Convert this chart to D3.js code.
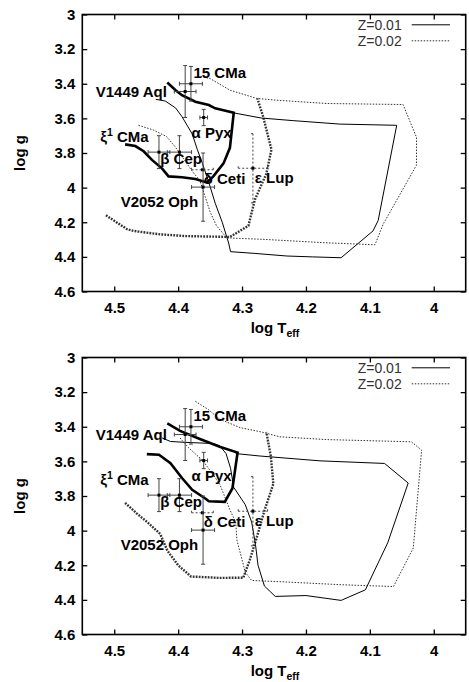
<!DOCTYPE html>
<html>
<head>
<meta charset="utf-8">
<script src="https://cdn.jsdelivr.net/npm/d3@7/dist/d3.min.js"></script>
<style>
  body { margin: 0; background: #fff; }
  text { font-family: "Liberation Sans", Arial, Helvetica, sans-serif; }
</style>
</head>
<body>
<div id="container"></div>
<script>
// stars, solid error bars
const starTeff    = [4.380, 4.389, 4.360, 4.430, 4.398, 4.361];
const starLogg    = [3.400, 3.445, 3.595, 3.795, 3.795, 3.997];
const starTeffErr = [0.018, 0.017, 0.006, 0.017, 0.019, 0.018];
const starLoggErr = [0.100, 0.150, 0.047, 0.095, 0.095, 0.197];
// second determinations, dashed error bars
const altTeff    = [4.362, 4.283];
const altLogg    = [3.897, 3.888];
const altTeffErr = [0.017, 0.023];
const altLoggErr = [0.000, 0.200];

// star names, placed in data coords
const labelText = ["15 CMa", "V1449 Aql", "ξ^1 CMa", "α Pyx", "β Cep", "δ Ceti", "ε Lup", "V2052 Oph"];
const labelTeff = [4.376, 4.529, 4.522, 4.379, 4.428, 4.360, 4.280, 4.490];
const labelLogg = [3.368, 3.477, 3.736, 3.712, 3.862, 3.978, 3.976, 4.112];

const xTicks = [4.5, 4.4, 4.3, 4.2, 4.1, 4.0];
const yTicks = [3, 3.2, 3.4, 3.6, 3.8, 4, 4.2, 4.4, 4.6];
const legendNames = ["Z=0.01", "Z=0.02"];

// upper panel strips  [log Teff, log g]
const topZ01Thick = [[4.483,3.75],[4.467,3.76],[4.454,3.79],[4.441,3.84],[4.425,3.89],[4.415,3.935],[4.394,3.94],[4.373,3.95],[4.355,3.97],[4.345,3.935],[4.329,3.86],[4.319,3.77],[4.313,3.567],[4.342,3.542],[4.352,3.523],[4.373,3.504],[4.394,3.466],[4.404,3.437],[4.417,3.393]];
const topZ01Thin = [[4.435,3.49],[4.42,3.5],[4.404,3.54],[4.394,3.59],[4.378,3.69],[4.37,3.78],[4.362,3.86],[4.352,3.97],[4.342,4.09],[4.331,4.2],[4.321,4.32],[4.318,4.37],[4.28,4.38],[4.23,4.395],[4.19,4.4],[4.145,4.405],[4.095,4.25],[4.087,4.19],[4.058,3.64],[4.147,3.633],[4.22,3.613],[4.27,3.598],[4.315,3.567]];
const topZ02Thick = [[4.513,4.16],[4.48,4.24],[4.47,4.25],[4.428,4.27],[4.387,4.28],[4.319,4.285],[4.29,4.22],[4.28,4.07],[4.262,3.92],[4.254,3.78],[4.267,3.59],[4.276,3.485]];
const topZ02Thin = [[4.462,3.64],[4.439,3.667],[4.418,3.705],[4.405,3.763],[4.394,3.82],[4.379,3.9],[4.366,3.96],[4.358,4.05],[4.35,4.14],[4.34,4.22],[4.324,4.29],[4.26,4.3],[4.167,4.319],[4.092,4.33],[4.079,4.21],[4.027,3.87],[4.027,3.71],[4.048,3.52],[4.168,3.514],[4.246,3.495],[4.277,3.485],[4.319,3.437],[4.35,3.37],[4.366,3.357]];

// lower panel strips
const botZ01Thick = [[4.449,3.558],[4.43,3.562],[4.412,3.61],[4.394,3.696],[4.378,3.764],[4.357,3.816],[4.352,3.83],[4.327,3.834],[4.315,3.755],[4.307,3.549],[4.335,3.516],[4.366,3.471],[4.397,3.424],[4.417,3.38]];
const botZ01Thin = [[4.425,3.465],[4.412,3.485],[4.39,3.49],[4.345,3.497],[4.335,3.51],[4.325,3.555],[4.318,3.64],[4.313,3.75],[4.295,3.85],[4.285,3.95],[4.279,4.08],[4.275,4.2],[4.265,4.32],[4.248,4.38],[4.2,4.375],[4.145,4.403],[4.107,4.342],[4.072,4.07],[4.04,3.725],[4.077,3.612],[4.178,3.597],[4.272,3.569],[4.31,3.555]];
const botZ02Thick = [[4.483,3.84],[4.465,3.9],[4.447,3.955],[4.428,4.02],[4.417,4.115],[4.4,4.2],[4.38,4.265],[4.335,4.273],[4.298,4.272],[4.288,4.17],[4.277,4.04],[4.265,3.885],[4.251,3.73],[4.255,3.57],[4.262,3.43]];
const botZ02Thin = [[4.397,3.465],[4.384,3.52],[4.361,3.597],[4.335,3.73],[4.319,3.88],[4.31,3.95],[4.308,4.055],[4.295,4.24],[4.285,4.288],[4.246,4.294],[4.142,4.313],[4.063,4.323],[4.032,4.1],[4.019,3.535],[4.035,3.487],[4.168,3.474],[4.241,3.458],[4.27,3.43],[4.303,3.405],[4.335,3.356],[4.353,3.3],[4.374,3.251]];

const w = 469;
const h = 682;
const padLeft = 82.3, padRight = 465.7, padTop = 14.5, padBottom = 291.5;
const font = "'Liberation Sans', Arial, sans-serif";

const svg = d3.select("#container")
              .append("svg")
              .attr("width", w)
              .attr("height", h);

function drawPanel(offset, z01Thick, z01Thin, z02Thick, z02Thin) {
  const g = svg.append("g").attr("transform", "translate(0," + offset + ")");

  const xScale = d3.scaleLinear().domain([4.55, 3.95]).range([padLeft, padRight]);
  const yScale = d3.scaleLinear().domain([3, 4.6]).range([padTop, padBottom]);

  const fmt = (d) => String(+d.toFixed(1));

  // axes with ticks inside the frame, mirrored on top and right
  const axes = [
    [d3.axisLeft(yScale).tickValues(yTicks).tickFormat(fmt).tickPadding(7), "translate(" + padLeft + ",0)"],
    [d3.axisRight(yScale).tickValues(yTicks).tickFormat(""), "translate(" + padRight + ",0)"],
    [d3.axisBottom(xScale).tickValues(xTicks).tickFormat(fmt).tickPadding(11), "translate(0," + padBottom + ")"],
    [d3.axisTop(xScale).tickValues(xTicks).tickFormat(""), "translate(0," + padTop + ")"]
  ];
  axes.forEach(([ax, tr]) => {
    const a = g.append("g")
               .attr("transform", tr)
               .call(ax.tickSizeInner(-5).tickSizeOuter(0));
    a.attr("font-size", 15).attr("font-family", font).attr("font-weight", "bold");
    a.select(".domain").remove();
    a.selectAll(".tick line").attr("stroke", "#000").attr("stroke-width", 1.3);
    a.selectAll("text").attr("fill", "#000");
  });

  g.append("rect")
   .attr("x", padLeft).attr("y", padTop)
   .attr("width", padRight - padLeft).attr("height", padBottom - padTop)
   .attr("fill", "none").attr("stroke", "#000").attr("stroke-width", 1.6);

  // axis titles
  g.append("text")
   .attr("transform", "translate(25," + ((padTop + padBottom) / 2) + ") rotate(-90)")
   .attr("text-anchor", "middle")
   .attr("font-size", 15).attr("font-weight", "bold")
   .text("log g");

  const xl = g.append("text")
              .attr("x", (padLeft + padRight) / 2 + 1)
              .attr("y", 333)
              .attr("text-anchor", "middle")
              .attr("font-size", 15).attr("font-weight", "bold");
  xl.append("tspan").text("log T");
  xl.append("tspan").attr("font-size", 10.5).attr("dy", 4).text("eff");

  const line = d3.line().x((d) => xScale(d[0])).y((d) => yScale(d[1]));

  // strips
  g.append("path").datum(z02Thin).attr("d", line)
   .attr("fill", "none").attr("stroke", "#333").attr("stroke-width", 1).attr("stroke-dasharray", "1.5,1.5");
  g.append("path").datum(z02Thick).attr("d", line)
   .attr("fill", "none").attr("stroke", "#333").attr("stroke-width", 2.4).attr("stroke-dasharray", "1.8,1.2");
  g.append("path").datum(z01Thin).attr("d", line)
   .attr("fill", "none").attr("stroke", "#000").attr("stroke-width", 1);
  g.append("path").datum(z01Thick).attr("d", line)
   .attr("fill", "none").attr("stroke", "#000").attr("stroke-width", 2.6);

  // error bars
  function errorBars(tx, lg, te, le, dash) {
    const cap = 2;
    const eb = g.append("g")
                .attr("stroke", "#444")
                .attr("stroke-width", 1)
                .attr("stroke-dasharray", dash);
    tx.forEach((t, i) => {
      const cx = xScale(t), cy = yScale(lg[i]);
      const x0 = xScale(t + te[i]), x1 = xScale(t - te[i]);
      eb.append("line").attr("x1", x0).attr("x2", x1).attr("y1", cy).attr("y2", cy);
      eb.append("line").attr("x1", x0).attr("x2", x0).attr("y1", cy - cap).attr("y2", cy + cap);
      eb.append("line").attr("x1", x1).attr("x2", x1).attr("y1", cy - cap).attr("y2", cy + cap);
      if (le[i] > 0) {
        const y0 = yScale(lg[i] - le[i]), y1 = yScale(lg[i] + le[i]);
        eb.append("line").attr("x1", cx).attr("x2", cx).attr("y1", y0).attr("y2", y1);
        eb.append("line").attr("x1", cx - cap).attr("x2", cx + cap).attr("y1", y0).attr("y2", y0);
        eb.append("line").attr("x1", cx - cap).attr("x2", cx + cap).attr("y1", y1).attr("y2", y1);
      }
      g.append("rect").attr("x", cx - 1.5).attr("y", cy - 1.5)
       .attr("width", 3).attr("height", 3).attr("fill", "#000");
    });
  }
  errorBars(altTeff, altLogg, altTeffErr, altLoggErr, "2,2");
  errorBars(starTeff, starLogg, starTeffErr, starLoggErr, null);

  // star names
  labelText.forEach((s, i) => {
    const t = g.append("text")
               .attr("x", xScale(labelTeff[i]))
               .attr("y", yScale(labelLogg[i]))
               .attr("font-size", 15).attr("font-weight", "bold")
               .attr("fill", "#000");
    if (s.includes("^")) {
      const [a, rest] = s.split("^");
      t.append("tspan").text(a);
      t.append("tspan").attr("font-size", 10.5).attr("dy", -6).text(rest[0]);
      t.append("tspan").attr("dy", 6).text(rest.slice(1));
    } else {
      t.text(s);
    }
  });

  // legend
  const legY = [24.8, 40.8];
  legendNames.forEach((name, i) => {
    g.append("text")
     .attr("x", 401.7).attr("y", legY[i]).attr("dy", "0.35em")
     .attr("text-anchor", "end")
     .attr("font-size", 14).attr("fill", "#333")
     .text(name);
    g.append("line")
     .attr("x1", 411.7).attr("x2", 450)
     .attr("y1", legY[i]).attr("y2", legY[i])
     .attr("stroke", i == 0 ? "#000" : "#333")
     .attr("stroke-width", 1)
     .attr("stroke-dasharray", i == 0 ? null : "1.5,1.5");
  });
}

drawPanel(0, topZ01Thick, topZ01Thin, topZ02Thick, topZ02Thin);
drawPanel(343, botZ01Thick, botZ01Thin, botZ02Thick, botZ02Thin);
</script>
</body>
</html>
